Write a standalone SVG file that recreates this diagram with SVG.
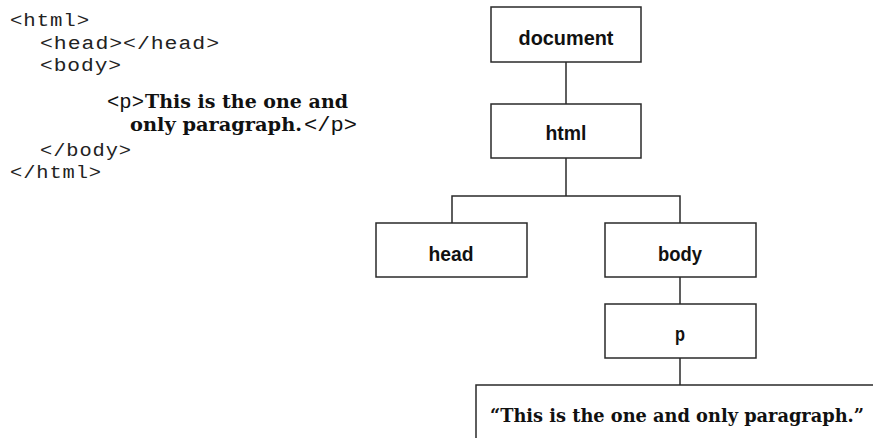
<svg xmlns="http://www.w3.org/2000/svg" width="873" height="438" viewBox="0 0 873 438">
<style>
  .bg{fill:#ffffff}
  .box{fill:#ffffff;stroke:#2a2a2a;stroke-width:1.5}
  .edge{fill:none;stroke:#2a2a2a;stroke-width:1.5}
  .lbl{font-family:"Liberation Sans","Arial",sans-serif;font-weight:bold;font-size:21px;fill:#111;text-anchor:middle}
  .code{font-family:"Liberation Mono","DejaVu Sans Mono",monospace;font-size:18px;letter-spacing:0.8px;fill:#222}
  .tag{font-family:"Liberation Mono","DejaVu Sans Mono",monospace;font-size:20px;fill:#111}
  .ser{font-family:"DejaVu Serif","Liberation Serif",serif;font-weight:bold;font-size:18px;fill:#111}
</style>
<rect class="bg" x="0" y="0" width="873" height="438"/>

<g id="code">
  <text class="code" x="10" y="26" textLength="80" lengthAdjust="spacingAndGlyphs">&lt;html&gt;</text>
  <text class="code" x="40" y="49" textLength="180" lengthAdjust="spacingAndGlyphs">&lt;head&gt;&lt;/head&gt;</text>
  <text class="code" x="40" y="71" textLength="82" lengthAdjust="spacingAndGlyphs">&lt;body&gt;</text>
  <text class="tag" x="107" y="108" textLength="37" lengthAdjust="spacingAndGlyphs">&lt;p&gt;</text>
  <text class="ser" x="145" y="108" textLength="203" lengthAdjust="spacingAndGlyphs">This is the one and</text>
  <text class="ser" x="130" y="131" textLength="172" lengthAdjust="spacingAndGlyphs">only paragraph.</text>
  <text class="tag" x="304" y="131" textLength="53" lengthAdjust="spacingAndGlyphs">&lt;/p&gt;</text>
  <text class="code" x="40" y="156" textLength="92" lengthAdjust="spacingAndGlyphs">&lt;/body&gt;</text>
  <text class="code" x="10" y="178" textLength="92" lengthAdjust="spacingAndGlyphs">&lt;/html&gt;</text>
</g>

<g id="connectors">
  <path class="edge" d="M566 62 V104"/>
  <path class="edge" d="M566 158 V196"/>
  <path class="edge" d="M452 223 V196 H680 V223"/>
  <path class="edge" d="M680 277 V304"/>
  <path class="edge" d="M680 358 V385"/>
</g>

<g id="node-document">
  <rect class="box" x="491" y="7" width="150" height="55"/>
  <text class="lbl" x="566" y="45" textLength="95" lengthAdjust="spacingAndGlyphs">document</text>
</g>
<g id="node-html">
  <rect class="box" x="491" y="104" width="150" height="54"/>
  <text class="lbl" x="566" y="140" textLength="41" lengthAdjust="spacingAndGlyphs">html</text>
</g>
<g id="node-head">
  <rect class="box" x="376" y="223" width="151" height="54"/>
  <text class="lbl" x="451" y="261" textLength="45" lengthAdjust="spacingAndGlyphs">head</text>
</g>
<g id="node-body">
  <rect class="box" x="605" y="223" width="151" height="54"/>
  <text class="lbl" x="680" y="261" textLength="44" lengthAdjust="spacingAndGlyphs">body</text>
</g>
<g id="node-p">
  <rect class="box" x="605" y="304" width="151" height="54"/>
  <text class="lbl" x="680" y="341" textLength="10" lengthAdjust="spacingAndGlyphs">p</text>
</g>
<g id="node-text">
  <rect class="box" x="476" y="385" width="440" height="90"/>
  <text class="ser" x="490" y="422" font-size="19" textLength="374" lengthAdjust="spacingAndGlyphs">“This is the one and only paragraph.”</text>
</g>
</svg>
